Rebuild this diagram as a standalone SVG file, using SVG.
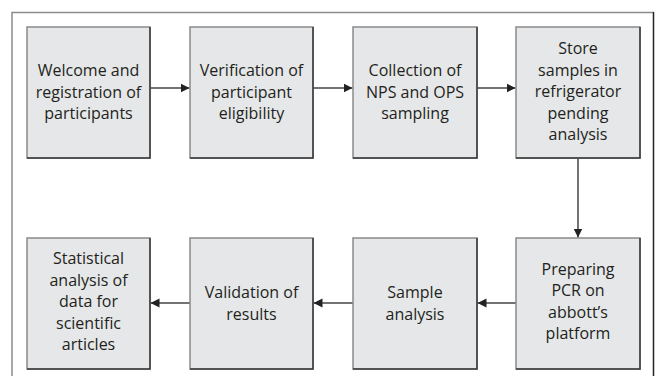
<svg xmlns="http://www.w3.org/2000/svg" width="657" height="376" viewBox="0 0 657 376">
<defs>
<marker id="ah" markerWidth="10" markerHeight="10" refX="9" refY="5" orient="auto" markerUnits="userSpaceOnUse">
<path d="M0,0.5 L9,5 L0,9.5 Z" fill="#222"/>
</marker>
<style>
.box{fill:#e6e7e8;stroke:#8a8a8a;stroke-width:1.5}
.sh{fill:none;stroke:#3a3a3a;stroke-width:1.5}
.t{font-family:"Open Sans","Liberation Sans",sans-serif;font-size:16px;fill:#231f20;text-anchor:middle}
.c{stroke:#444;stroke-width:1.5;fill:none;marker-end:url(#ah)}
</style>
</defs>
<rect width="657" height="376" fill="#fff"/>
<g id="frame">
<path d="M12,380 V12.5 H654" fill="none" stroke="#8c8c8c" stroke-width="1.5"/>
<path d="M653.5,12 V380" fill="none" stroke="#222" stroke-width="1.5"/>
</g>
<g id="connectors">
<line class="c" x1="150" y1="88" x2="189.5" y2="88"/>
<line class="c" x1="313" y1="88" x2="352.5" y2="88"/>
<line class="c" x1="477" y1="88" x2="515.5" y2="88"/>
<line class="c" x1="578" y1="158" x2="578" y2="237.5"/>
<line class="c" x1="516" y1="303" x2="477.5" y2="303"/>
<line class="c" x1="353" y1="303" x2="313.5" y2="303"/>
<line class="c" x1="190" y1="303" x2="150.5" y2="303"/>
</g>
<g id="n1">
<rect class="box" x="27" y="27" width="123" height="131"/>
<path class="sh" d="M150,27 V158 H27"/>
<text class="t" x="88.5"><tspan y="76">Welcome and</tspan><tspan x="88.5" y="97.5">registration of</tspan><tspan x="88.5" y="119">participants</tspan></text>
</g>
<g id="n2">
<rect class="box" x="190" y="27" width="123" height="131"/>
<path class="sh" d="M313,27 V158 H190"/>
<text class="t" x="251.5"><tspan y="76">Verification of</tspan><tspan x="251.5" y="97.5">participant</tspan><tspan x="251.5" y="119">eligibility</tspan></text>
</g>
<g id="n3">
<rect class="box" x="353" y="27" width="124" height="131"/>
<path class="sh" d="M477,27 V158 H353"/>
<text class="t" x="415"><tspan y="76">Collection of</tspan><tspan x="415" y="97.5">NPS and OPS</tspan><tspan x="415" y="119">sampling</tspan></text>
</g>
<g id="n4">
<rect class="box" x="516" y="27" width="124" height="131"/>
<path class="sh" d="M640,27 V158 H516"/>
<text class="t" x="578"><tspan y="54">Store</tspan><tspan x="578" y="75.5">samples in</tspan><tspan x="578" y="97">refrigerator</tspan><tspan x="578" y="118.5">pending</tspan><tspan x="578" y="140">analysis</tspan></text>
</g>
<g id="n5">
<rect class="box" x="516" y="238" width="124" height="131"/>
<path class="sh" d="M640,238 V369 H516"/>
<text class="t" x="578"><tspan y="274.5">Preparing</tspan><tspan x="578" y="296">PCR on</tspan><tspan x="578" y="317.5">abbott’s</tspan><tspan x="578" y="339">platform</tspan></text>
</g>
<g id="n6">
<rect class="box" x="353" y="238" width="124" height="131"/>
<path class="sh" d="M477,238 V369 H353"/>
<text class="t" x="415"><tspan y="298">Sample</tspan><tspan x="415" y="319.5">analysis</tspan></text>
</g>
<g id="n7">
<rect class="box" x="190" y="238" width="123" height="131"/>
<path class="sh" d="M313,238 V369 H190"/>
<text class="t" x="251.5"><tspan y="298">Validation of</tspan><tspan x="251.5" y="319.5">results</tspan></text>
</g>
<g id="n8">
<rect class="box" x="27" y="238" width="123" height="131"/>
<path class="sh" d="M150,238 V369 H27"/>
<text class="t" x="88.5"><tspan y="264">Statistical</tspan><tspan x="88.5" y="285.5">analysis of</tspan><tspan x="88.5" y="307">data for</tspan><tspan x="88.5" y="328.5">scientific</tspan><tspan x="88.5" y="350">articles</tspan></text>
</g>
</svg>
